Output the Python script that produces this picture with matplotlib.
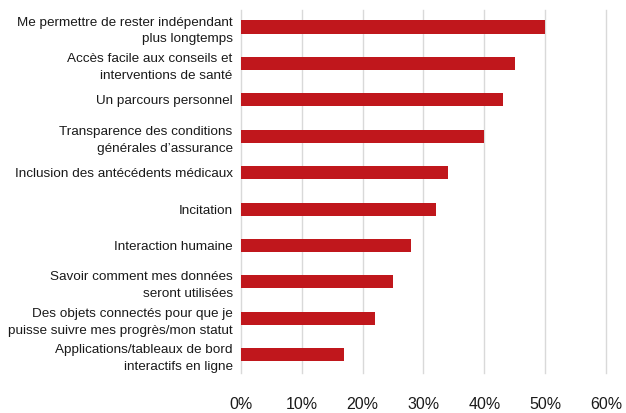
import matplotlib.pyplot as plt
from matplotlib.ticker import PercentFormatter

labels = [
    "Me permettre de rester indépendant\nplus longtemps",
    "Accès facile aux conseils et\ninterventions de santé",
    "Un parcours personnel",
    "Transparence des conditions\ngénérales d’assurance",
    "Inclusion des antécédents médicaux",
    "Incitation",
    "Interaction humaine",
    "Savoir comment mes données\nseront utilisées",
    "Des objets connectés pour que je\npuisse suivre mes progrès/mon statut",
    "Applications/tableaux de bord\ninteractifs en ligne",
]
values = [50, 45, 43, 40, 34, 32, 28, 25, 22, 17]
xticks = [0, 10, 20, 30, 40, 50, 60]

plt.rcParams['font.family'] = ['Liberation Sans', 'DejaVu Sans']

fig = plt.figure(figsize=(6.26, 4.13), dpi=100)
ax = fig.add_axes([0.385, 0.097, 0.583, 0.879])

pos = list(range(len(labels)))
ax.barh(pos, values, height=0.36, color='#c0171c', zorder=3)
ax.set_ylim(len(labels) - 0.5, -0.47)
ax.set_xlim(0, 60)
ax.set_xticks(xticks)
ax.xaxis.set_major_formatter(PercentFormatter(decimals=0))
ax.set_yticks(pos)
ax.set_yticklabels(labels, fontsize=9.7, color='#1a1a1a', linespacing=1.55)

ax.grid(axis='x', color='#d9d9d9', linewidth=1, zorder=0)
for gl in ax.get_xgridlines():
    gl.set_clip_on(False)
for s in ax.spines.values():
    s.set_visible(False)
ax.tick_params(axis='y', length=0, pad=6)
ax.tick_params(axis='x', length=0, pad=17, labelsize=11.5, labelcolor='#1a1a1a')

fig.savefig('out.png', dpi=100)
